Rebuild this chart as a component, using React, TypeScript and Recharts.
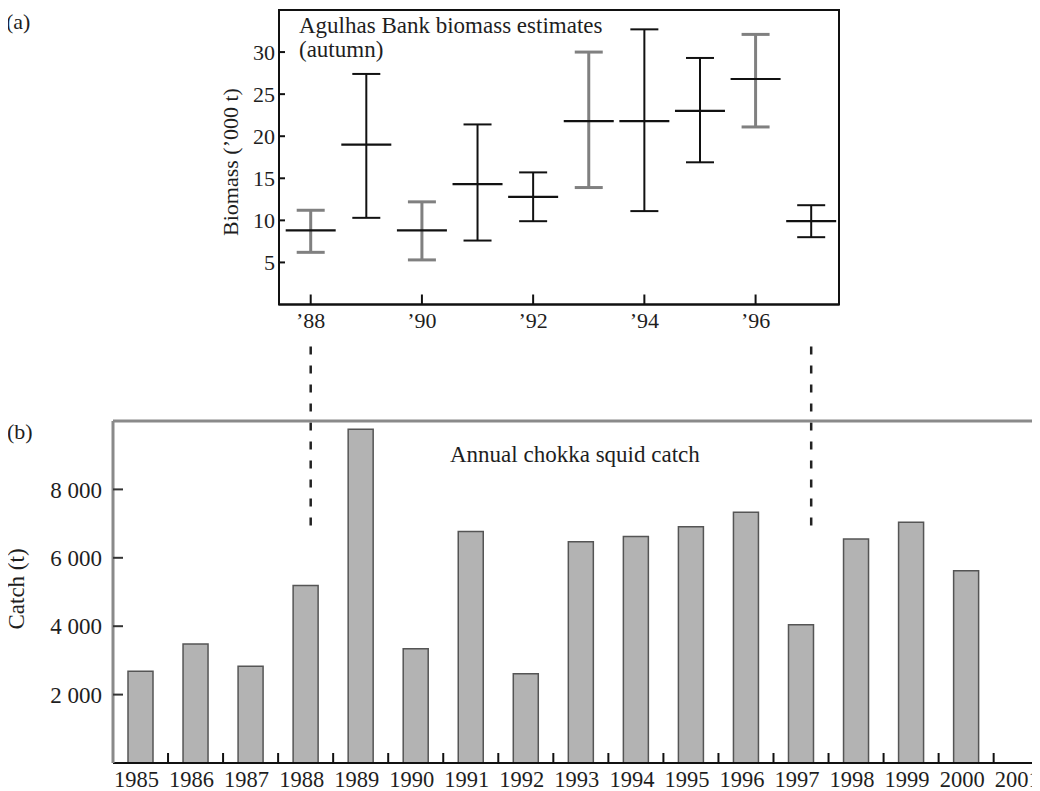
import React from 'react';
import {
  ComposedChart,
  Bar,
  Scatter,
  ErrorBar,
  XAxis,
  YAxis,
  ReferenceLine,
  ReferenceArea,
} from 'recharts';

// ---------- panel (a): Agulhas Bank biomass estimates ----------
const surveyYears = [1988, 1989, 1990, 1991, 1992, 1993, 1994, 1995, 1996, 1997];
const biomassMid = [8.8, 19.0, 8.8, 14.3, 12.8, 21.8, 21.8, 23.0, 26.8, 9.9];
const biomassLow = [6.2, 10.3, 5.3, 7.6, 9.9, 13.9, 11.1, 16.9, 21.1, 8.0];
const biomassHigh = [11.2, 27.4, 12.2, 21.4, 15.7, 30.0, 32.7, 29.3, 32.1, 11.8];
const biomassTicks = [5, 10, 15, 20, 25, 30];
const surveyYearTicks = [1988, 1990, 1992, 1994, 1996];
const greyBarYears = [1988, 1990, 1993, 1996];
const linkYears = [1988, 1997];

// ---------- panel (b): annual chokka squid catch ----------
const catchYears = [1985, 1986, 1987, 1988, 1989, 1990, 1991, 1992, 1993, 1994, 1995, 1996, 1997, 1998, 1999, 2000, 2001];
const catchValues = [2680, 3480, 2830, 5190, 9760, 3340, 6770, 2610, 6470, 6620, 6910, 7330, 4040, 6550, 7040, 5620, null];
const catchTicks = [2000, 4000, 6000, 8000];

const biomassRows = surveyYears.map((year, i) => ({
  year,
  mid: biomassMid[i],
  err: [biomassMid[i] - biomassLow[i], biomassHigh[i] - biomassMid[i]],
}));
const greyRows = biomassRows.filter((r) => greyBarYears.includes(r.year));
const blackRows = biomassRows.filter((r) => !greyBarYears.includes(r.year));

const catchRows = catchYears.map((year, i) => ({ year, catch: catchValues[i] }));
const boundaryTicks = catchYears.slice(0, -1).map((y) => y + 0.5);

const FONT = '"Liberation Serif", "Times New Roman", Times, serif';
const TEXT = '#1e1e1e';

const MidLine = (props: any) => {
  const { cx, cy } = props;
  if (cx == null || cy == null) return null;
  return <line x1={cx - 25} x2={cx + 25} y1={cy} y2={cy} stroke="#111" strokeWidth={2.2} />;
};

const fmtThousands = (v: number) => String(v).replace(/\B(?=(\d{3})+(?!\d))/g, ' ');
const fmtShortYear = (v: number) => '\u2019' + String(v).slice(2);

export default function App() {
  return (
    <div
      style={{
        position: 'relative',
        marginLeft: -8,
        marginTop: -8,
        width: 1040,
        height: 791,
        overflow: 'hidden',
        background: '#fff',
        fontFamily: FONT,
      }}
    >
      <div style={{ position: 'absolute', left: 0, top: 0 }}>
        <ComposedChart
          width={1040}
          height={540}
          margin={{ top: 10, right: 201, bottom: 205.5, left: 0 }}
          style={{ fontFamily: FONT }}
        >
          <XAxis
            dataKey="year"
            type="number"
            domain={[1987.43, 1997.5]}
            allowDataOverflow
            ticks={surveyYearTicks}
            tickFormatter={fmtShortYear}
            height={30}
            axisLine={{ stroke: '#111', strokeWidth: 2 }}
            tickLine={{ stroke: '#111', strokeWidth: 2 }}
            tickSize={-10}
            tickMargin={18}
            tick={{ fontSize: 22, fill: TEXT, fontFamily: FONT }}
          />
          <YAxis
            type="number"
            domain={[0, 35]}
            allowDataOverflow
            ticks={biomassTicks}
            width={279}
            axisLine={{ stroke: '#111', strokeWidth: 2 }}
            tickLine={{ stroke: '#111', strokeWidth: 2 }}
            tickSize={-6}
            tickMargin={10}
            tick={{ fontSize: 22, fill: TEXT, fontFamily: FONT }}
          />
          <ReferenceArea
            x1={1987.43}
            x2={1997.5}
            y1={0}
            y2={35}
            fill="none"
            fillOpacity={0}
            stroke="#111"
            strokeWidth={2}
            ifOverflow="visible"
          />
          <Scatter data={greyRows} dataKey="mid" shape={MidLine} isAnimationActive={false}>
            <ErrorBar dataKey="err" direction="y" width={14} stroke="#808080" strokeWidth={3} isAnimationActive={false} />
          </Scatter>
          <Scatter data={blackRows} dataKey="mid" shape={MidLine} isAnimationActive={false}>
            <ErrorBar dataKey="err" direction="y" width={14} stroke="#111" strokeWidth={2} isAnimationActive={false} />
          </Scatter>
          {linkYears.map((y) => (
            <ReferenceLine
              key={y}
              segment={[
                { x: y, y: -5 },
                { x: y, y: -26.8 },
              ]}
              stroke="#222"
              strokeWidth={2.5}
              strokeDasharray="8 11"
              ifOverflow="visible"
            />
          ))}
          <text x={6} y={29} fontSize={22} fill={TEXT} fontFamily={FONT}>
            (a)
          </text>
          <text x={299} y={33} fontSize={23} fill={TEXT} fontFamily={FONT}>
            Agulhas Bank biomass estimates
          </text>
          <text x={299} y={57} fontSize={23} fill={TEXT} fontFamily={FONT}>
            (autumn)
          </text>
          <text
            x={238}
            y={162}
            fontSize={22}
            fill={TEXT}
            fontFamily={FONT}
            textAnchor="middle"
            transform="rotate(-90, 238, 162)"
          >
            Biomass (’000 t)
          </text>
        </ComposedChart>
      </div>

      <div style={{ position: 'absolute', left: 0, top: 330 }}>
        <ComposedChart
          width={1100}
          height={461}
          data={catchRows}
          margin={{ top: 90, right: 51.3, bottom: 0, left: 0 }}
          style={{ fontFamily: FONT }}
        >
          <XAxis
            xAxisId={0}
            dataKey="year"
            type="number"
            domain={[1984.5, 2001.5]}
            allowDataOverflow
            ticks={boundaryTicks}
            tickFormatter={() => ''}
            height={1}
            axisLine={{ stroke: '#111', strokeWidth: 2 }}
            tickLine={{ stroke: '#111', strokeWidth: 2 }}
            tickSize={-10}
          />
          <XAxis
            xAxisId="cat"
            dataKey="year"
            type="category"
            height={27}
            interval={0}
            axisLine={false}
            tickLine={false}
            tickSize={0}
            tickMargin={7}
            tick={{ fontSize: 22.5, fill: TEXT, fontFamily: FONT, dx: -4 }}
          />
          <XAxis
            xAxisId="top"
            orientation="top"
            dataKey="year"
            type="category"
            height={1}
            tick={false}
            tickLine={false}
            axisLine={{ stroke: '#8a8a8a', strokeWidth: 3 }}
          />
          <YAxis
            type="number"
            domain={[0, 10000]}
            allowDataOverflow
            ticks={catchTicks}
            tickFormatter={fmtThousands}
            width={113}
            axisLine={{ stroke: '#8a8a8a', strokeWidth: 3 }}
            tickLine={{ stroke: '#333', strokeWidth: 2 }}
            tickSize={-10}
            tickMargin={21}
            tick={{ fontSize: 23, fill: TEXT, fontFamily: FONT }}
          />
          <Bar
            xAxisId="cat"
            dataKey="catch"
            barSize={25}
            fill="#b3b3b3"
            stroke="#555"
            strokeWidth={1.5}
            isAnimationActive={false}
          />
          <text x={7} y={109} fontSize={22} fill={TEXT} fontFamily={FONT}>
            (b)
          </text>
          <text x={450} y={131.5} fontSize={23} fill={TEXT} fontFamily={FONT}>
            Annual chokka squid catch
          </text>
          <text
            x={24}
            y={259}
            fontSize={23}
            fill={TEXT}
            fontFamily={FONT}
            textAnchor="middle"
            transform="rotate(-90, 24, 259)"
          >
            Catch (t)
          </text>
        </ComposedChart>
      </div>
    </div>
  );
}
